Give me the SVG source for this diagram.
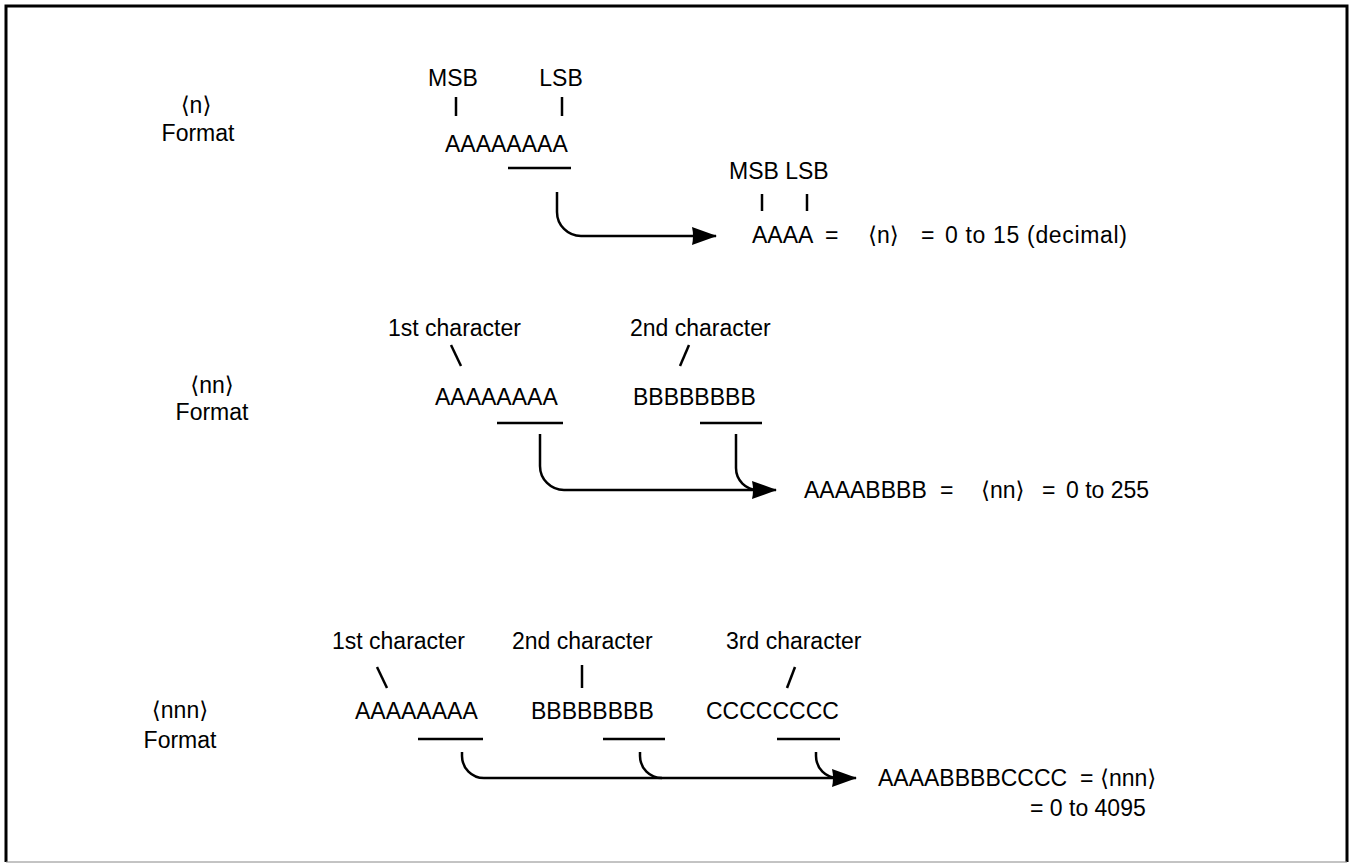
<svg xmlns="http://www.w3.org/2000/svg" width="1355" height="864" viewBox="0 0 1355 864">
<defs>
<style>
text{font-family:"Liberation Sans","DejaVu Sans",sans-serif;font-size:23px;fill:#000}
.m{text-anchor:middle}
.ln{stroke:#000;stroke-width:2.5;fill:none;stroke-linecap:butt}
.con{stroke:#000;stroke-width:2.5;fill:none}
</style>
<marker id="ah" markerUnits="userSpaceOnUse" markerWidth="28" markerHeight="22" refX="24" refY="10" orient="auto">
<path d="M0,1 L25,10 L0,19 Q2,10 0,1 z" fill="#000"/>
</marker>
</defs>
<rect x="0" y="0" width="1355" height="864" fill="#fff"/>
<path d="M6,862 V6 H1347 V862" fill="none" stroke="#000" stroke-width="3"/>
<line x1="6" y1="862" x2="1347" y2="862" stroke="#888" stroke-width="1"/>

<g id="n-format">
<text x="196" y="113" class="m">⟨n⟩</text>
<text x="198" y="141" class="m">Format</text>
<text x="453" y="86" class="m">MSB</text>
<text x="561" y="86" class="m">LSB</text>
<line class="ln" x1="456" y1="97" x2="456" y2="116"/>
<line class="ln" x1="562" y1="97" x2="562" y2="116"/>
<text x="445" y="152">AAAAAAAA</text>
<line class="ln" x1="508" y1="168" x2="571" y2="168"/>
<text x="729" y="179">MSB LSB</text>
<line class="ln" x1="762" y1="194" x2="762" y2="211"/>
<line class="ln" x1="807" y1="194" x2="807" y2="211"/>
<text x="752" y="243">AAAA</text>
<text x="825" y="243">=</text>
<text x="868" y="243">⟨n⟩</text>
<text x="921" y="243">=</text>
<text x="945" y="243" textLength="182">0 to 15 (decimal)</text>
</g>

<g id="nn-format">
<text x="212" y="393" class="m">⟨nn⟩</text>
<text x="212" y="420" class="m">Format</text>
<text x="388" y="336">1st character</text>
<text x="630" y="336">2nd character</text>
<line class="ln" x1="451" y1="345" x2="461" y2="366"/>
<line class="ln" x1="689" y1="345" x2="680" y2="366"/>
<text x="435" y="405">AAAAAAAA</text>
<text x="633" y="405">BBBBBBBB</text>
<line class="ln" x1="497" y1="423" x2="563" y2="423"/>
<line class="ln" x1="700" y1="423" x2="762" y2="423"/>
<text x="804" y="498">AAAABBBB</text>
<text x="940" y="498">=</text>
<text x="981" y="498">⟨nn⟩</text>
<text x="1042" y="498">=</text>
<text x="1066" y="498">0 to 255</text>
</g>

<g id="nnn-format">
<text x="180" y="718" class="m">⟨nnn⟩</text>
<text x="180" y="748" class="m">Format</text>
<text x="332" y="649">1st character</text>
<text x="512" y="649">2nd character</text>
<text x="726" y="649">3rd character</text>
<line class="ln" x1="377" y1="667" x2="387" y2="688"/>
<line class="ln" x1="582" y1="665" x2="582" y2="688"/>
<line class="ln" x1="795" y1="667" x2="787" y2="688"/>
<text x="355" y="719">AAAAAAAA</text>
<text x="531" y="719">BBBBBBBB</text>
<text x="706" y="719">CCCCCCCC</text>
<line class="ln" x1="418" y1="739" x2="483" y2="739"/>
<line class="ln" x1="603" y1="739" x2="665" y2="739"/>
<line class="ln" x1="777" y1="739" x2="840" y2="739"/>
<text x="878" y="786">AAAABBBBCCCC</text>
<text x="1080" y="786">=</text>
<text x="1100" y="786">⟨nnn⟩</text>
<text x="1030" y="816">= 0 to 4095</text>
</g>

<g id="connectors">
<path class="con" d="M557,192 V212 A24,24 0 0 0 581,236 H716" marker-end="url(#ah)"/>
<path class="con" d="M540,434 V466 A24,24 0 0 0 564,490 H776" marker-end="url(#ah)"/>
<path class="con" d="M736,434 V468 A22,22 0 0 0 758,490"/>
<path class="con" d="M462,752 V756 A22,22 0 0 0 484,778 H856" marker-end="url(#ah)"/>
<path class="con" d="M640,752 V756 A22,22 0 0 0 662,778"/>
<path class="con" d="M816,752 V756 A22,22 0 0 0 838,778"/>
</g>
</svg>
